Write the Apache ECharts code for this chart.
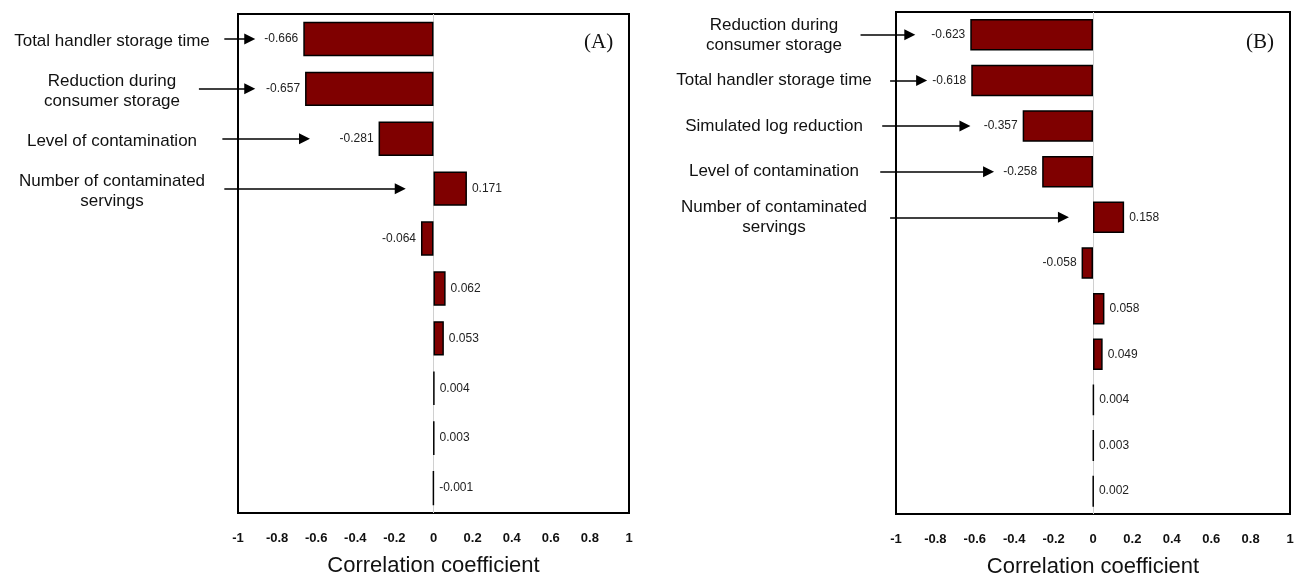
<!DOCTYPE html>
<html>
<head>
<meta charset="utf-8">
<script src="https://cdn.jsdelivr.net/npm/echarts@6/dist/echarts.min.js"></script>
<style>
html,body{margin:0;padding:0;background:#fff;}
#chart{width:1295px;height:577px;}
</style>
</head>
<body>
<div id="chart"></div>
<script>
// ---- Data ----
var labelsA = ['Total handler storage time', 'Reduction during\nconsumer storage', 'Level of contamination', 'Number of contaminated\nservings', '', '', '', '', '', ''];
var valuesA = [-0.666, -0.657, -0.281, 0.171, -0.064, 0.062, 0.053, 0.004, 0.003, -0.001];
var labelsB = ['Reduction during\nconsumer storage', 'Total handler storage time', 'Simulated log reduction', 'Level of contamination', 'Number of contaminated\nservings', '', '', '', '', '', ''];
var valuesB = [-0.623, -0.618, -0.357, -0.258, 0.158, -0.058, 0.058, 0.049, 0.004, 0.003, 0.002];
// arrows: [row position (category units), start x, tip x] in correlation units
var arrowsA = [[0.06, -1.07, -0.94], [0.94, -1.20, -0.94], [2.04, -1.08, -0.66], [2.94, -1.07, -0.17]];
var arrowsB = [[0.02, -1.18, -0.93], [1.0, -1.03, -0.87], [2.0, -1.07, -0.65], [2.98, -1.08, -0.53], [3.96, -1.03, -0.15]];
var xTicks = {min: -1, max: 1, interval: 0.2};
var panelTitles = ['(A)', '(B)'];
var axisTitle = 'Correlation coefficient';

var chart = echarts.init(document.getElementById('chart'), null, {renderer: 'canvas'});

function idx(arr) { return arr.map(function (_, i) { return String(i); }); }
function barData(vals) {
  return vals.map(function (v) {
    return {value: v, label: {position: v < -0.01 ? 'left' : 'right'}};
  });
}
function arrowData(arr) {
  return arr.map(function (a) { return {coords: [[a[1], a[0]], [a[2], a[0]]]}; });
}
function xAxisCfg(gi) {
  return {
    type: 'value', gridIndex: gi, min: xTicks.min, max: xTicks.max, interval: xTicks.interval,
    axisLine: {show: false}, axisTick: {show: false}, splitLine: {show: false},
    axisLabel: {margin: 19, fontFamily: 'Liberation Sans, Arial, sans-serif', fontSize: 13, fontWeight: 'bold', color: '#111'},
    name: axisTitle, nameLocation: 'middle', nameGap: 42,
    nameTextStyle: {fontFamily: 'Liberation Sans, Arial, sans-serif', fontSize: 22, color: '#111'}
  };
}
function yAxisCfg(gi, labels, margin, padTop) {
  return {
    type: 'category', gridIndex: gi, inverse: true, data: idx(labels),
    axisLine: {show: false}, axisTick: {show: false}, splitLine: {show: false},
    axisLabel: {
      margin: margin, align: 'center', interval: 0, padding: [padTop, 0, 0, 0],
      fontFamily: 'Liberation Sans, Arial, sans-serif', fontSize: 17, lineHeight: 20, color: '#111',
      rich: {t: {fontFamily: 'Liberation Sans, Arial, sans-serif', fontSize: 17, lineHeight: 20, color: '#111', align: 'center'}},
      formatter: function (v, i) {
        if (!labels[i]) return '';
        return labels[i].split('\n').map(function (s) { return '{t|' + s + '}'; }).join('\n');
      }
    }
  };
}
function barSeries(gi, vals) {
  return {
    type: 'bar', xAxisIndex: gi, yAxisIndex: gi, data: barData(vals),
    barCategoryGap: '31%',
    itemStyle: {color: '#7f0000', borderColor: '#000', borderWidth: 1.5},
    label: {
      show: true, distance: 5, fontFamily: 'Liberation Sans, Arial, sans-serif', fontSize: 12, color: '#222',
      formatter: function (p) { return p.value.toFixed(3); }
    },
    markLine: {
      silent: true, symbol: 'none', label: {show: false},
      lineStyle: {color: '#d0d0d0', width: 1, type: 'solid'},
      data: [{xAxis: 0}], z: 1
    },
    z: 3
  };
}
function arrowSeries(gi, arr) {
  return {
    type: 'lines', coordinateSystem: 'cartesian2d', xAxisIndex: gi, yAxisIndex: gi,
    clip: false, silent: true,
    symbol: ['none', 'triangle'], symbolSize: [9, 11],
    lineStyle: {color: '#000', width: 1.5, opacity: 1},
    data: arrowData(arr), z: 4
  };
}

chart.setOption({
  animation: false,
  backgroundColor: '#fff',
  title: [
    {text: panelTitles[0], left: 579, top: 27, textStyle: {fontFamily: 'Liberation Serif, Times New Roman, serif', fontSize: 21, fontWeight: 'normal', color: '#111'}},
    {text: panelTitles[1], left: 1241, top: 27, textStyle: {fontFamily: 'Liberation Serif, Times New Roman, serif', fontSize: 21, fontWeight: 'normal', color: '#111'}}
  ],
  grid: [
    {left: 238, top: 14, width: 391, height: 499, outerBoundsMode: 'none', containLabel: false, show: true, borderColor: '#000', borderWidth: 2, backgroundColor: 'transparent'},
    {left: 896, top: 12, width: 394, height: 502, outerBoundsMode: 'none', containLabel: false, show: true, borderColor: '#000', borderWidth: 2, backgroundColor: 'transparent'}
  ],
  xAxis: [xAxisCfg(0), xAxisCfg(1)],
  yAxis: [yAxisCfg(0, labelsA, 126, 5), yAxisCfg(1, labelsB, 122, 0)],
  series: [barSeries(0, valuesA), barSeries(1, valuesB), arrowSeries(0, arrowsA), arrowSeries(1, arrowsB)]
});
</script>
</body>
</html>
